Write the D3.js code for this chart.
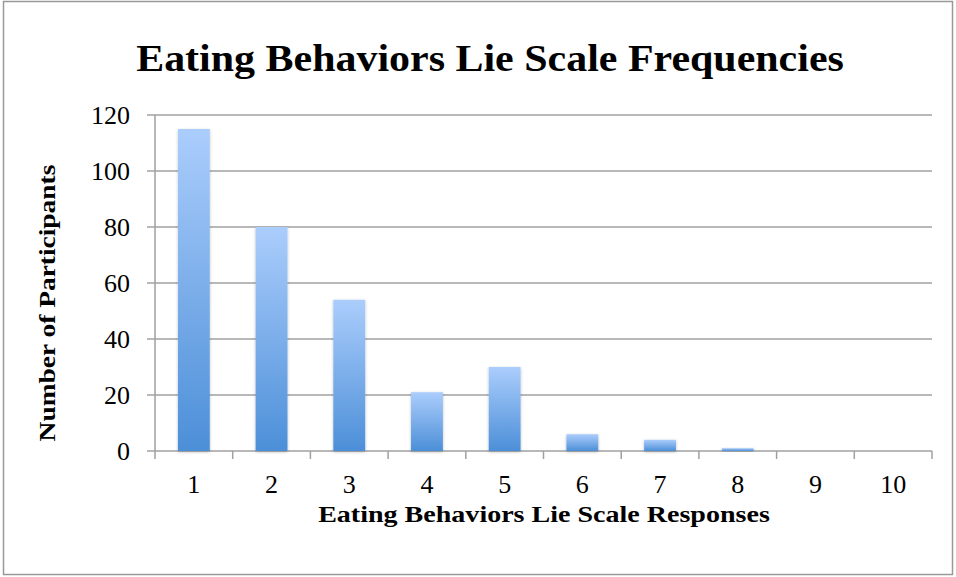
<!DOCTYPE html>
<html>
<head>
<meta charset="utf-8">
<script src="https://cdn.jsdelivr.net/npm/d3@7"></script>
<style>
  body { margin: 0; background: #fff; }
  svg { display: block; }
</style>
</head>
<body>
<svg id="chart" width="956" height="577"></svg>
<script>
const categories = ["1", "2", "3", "4", "5", "6", "7", "8", "9", "10"];
const counts = [115, 80, 54, 21, 30, 6, 4, 1, 0, 0];
const yTicks = [0, 20, 40, 60, 80, 100, 120];

const width = 956;
const height = 577;
const margin = { top: 115, right: 24, bottom: 126, left: 155 };
const serif = "Liberation Serif, Times New Roman, serif";

const svg = d3.select("#chart");

// outer frame
svg.append("rect")
  .attr("x", 3.5).attr("y", 1.5)
  .attr("width", width - 7).attr("height", height - 4)
  .attr("fill", "#fff")
  .attr("stroke", "#999")
  .attr("stroke-width", 1.5);

const defs = svg.append("defs");
const grad = defs.append("linearGradient")
  .attr("id", "barGrad")
  .attr("x1", 0).attr("y1", 0).attr("x2", 0).attr("y2", 1);
grad.append("stop").attr("offset", "0%").attr("stop-color", "#abcdfc");
grad.append("stop").attr("offset", "100%").attr("stop-color", "#4c8fd8");

const shadow = defs.append("filter").attr("id", "shadow")
  .attr("x", "-20%").attr("y", "-20%").attr("width", "140%").attr("height", "140%");
shadow.append("feDropShadow")
  .attr("dx", 0).attr("dy", 1).attr("stdDeviation", 1.5)
  .attr("flood-color", "#000").attr("flood-opacity", 0.25);

const x = d3.scaleBand()
  .domain(categories)
  .range([margin.left, width - margin.right])
  .paddingInner(0.59)
  .paddingOuter(0.295);

const xTickScale = d3.scaleLinear()
  .domain([0, categories.length])
  .range([margin.left, width - margin.right]);

const y = d3.scaleLinear()
  .domain([0, 120])
  .range([height - margin.bottom, margin.top]);

// gridlines
svg.append("g")
  .selectAll("line")
  .data(yTicks)
  .join("line")
  .attr("x1", margin.left - 8)
  .attr("x2", width - margin.right)
  .attr("y1", d => y(d))
  .attr("y2", d => y(d))
  .attr("stroke", "#a0a0a0")
  .attr("stroke-width", 1.5);

// y axis labels
svg.append("g")
  .selectAll("text")
  .data(yTicks)
  .join("text")
  .attr("x", 130)
  .attr("y", d => y(d))
  .attr("dy", "0.36em")
  .attr("text-anchor", "end")
  .attr("font-family", serif)
  .attr("font-size", 26)
  .attr("fill", "#000")
  .text(d => d);

// y axis line
svg.append("line")
  .attr("x1", margin.left).attr("x2", margin.left)
  .attr("y1", margin.top).attr("y2", height - margin.bottom)
  .attr("stroke", "#a0a0a0").attr("stroke-width", 1.5);

// x tick marks
svg.append("g")
  .selectAll("line")
  .data(d3.range(categories.length + 1))
  .join("line")
  .attr("x1", d => xTickScale(d))
  .attr("x2", d => xTickScale(d))
  .attr("y1", height - margin.bottom)
  .attr("y2", height - margin.bottom + 8)
  .attr("stroke", "#a0a0a0").attr("stroke-width", 1.5);

// bars
svg.append("g")
  .selectAll("rect")
  .data(counts.map((v, i) => ({ cat: categories[i], v })).filter(d => d.v > 0))
  .join("rect")
  .attr("x", d => x(d.cat))
  .attr("width", x.bandwidth())
  .attr("y", d => y(d.v))
  .attr("height", d => y(0) - y(d.v))
  .attr("fill", "url(#barGrad)")
  .attr("filter", "url(#shadow)");

// x labels
svg.append("g")
  .selectAll("text")
  .data(categories)
  .join("text")
  .attr("x", d => x(d) + x.bandwidth() / 2)
  .attr("y", 493)
  .attr("text-anchor", "middle")
  .attr("font-family", serif)
  .attr("font-size", 26)
  .attr("fill", "#000")
  .text(d => d);

// bold labels, stretched sideways to the width of the original (wider) face
function boldLabel(cx, cy, rot, size, target, txt) {
  const g = svg.append("g").attr("transform", `translate(${cx},${cy}) rotate(${rot})`);
  const t = g.append("text")
    .attr("text-anchor", "middle")
    .attr("font-family", serif)
    .attr("font-weight", "bold")
    .attr("font-size", size)
    .attr("fill", "#000")
    .text(txt);
  const w = t.node().getComputedTextLength();
  t.attr("transform", `scale(${target / w},1)`);
}

boldLabel(490, 71, 0, 38, 708, "Eating Behaviors Lie Scale Frequencies");
boldLabel(544, 522, 0, 23.5, 452, "Eating Behaviors Lie Scale Responses");
boldLabel(55, 303, -90, 23.5, 277, "Number of Participants");
</script>
</body>
</html>
